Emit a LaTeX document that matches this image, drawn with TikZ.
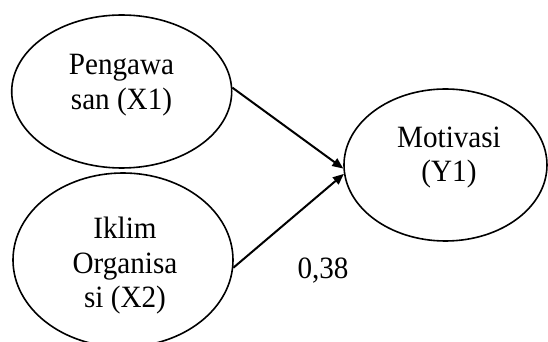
\documentclass[tikz,border=0pt]{standalone}
\usepackage{fontspec}
\setmainfont[FakeStretch=0.94]{Liberation Serif}
\usetikzlibrary{positioning, arrows.meta, shapes.geometric}

\begin{document}
\begin{tikzpicture}[x=0.5pt, y=-0.5pt,
  varbl/.style={ellipse, draw, line width=0.8pt, inner sep=0pt},
  varlabel/.style={align=center, inner sep=0pt, font=\fontsize{15.5}{17.25}\selectfont},
  jalur/.style={-{Triangle[length=5.5pt, width=4.5pt]}, line width=1pt}]
  \useasboundingbox (0,0) rectangle (548,342);
  % latent variables
  \node[varbl, minimum width=110pt, minimum height=76.5pt] (x1) at (121.7, 91.5) {};
  \node[varbl, minimum width=110pt, minimum height=87pt] (x2) at (123, 260) {};
  \node[varbl, minimum width=101.5pt, minimum height=76pt] (y1) at (445.5, 165) {};
  \node[varlabel] (x1txt) at (121.5, 85) {Pengawa\\san (X1)};
  \node[varlabel] (x2txt) at (125, 266) {Iklim\\Organisa\\si (X2)};
  \node[varlabel] (y1txt) at (449, 157.5) {Motivasi\\(Y1)};
  % paths into Y1
  \draw[jalur] (x1.2) -- (y1.182);
  \draw[jalur] (x2.-4) -- (y1.185);
  \node[varlabel, anchor=base] (koef) at (323, 278.3) {0,38};
\end{tikzpicture}
\end{document}
